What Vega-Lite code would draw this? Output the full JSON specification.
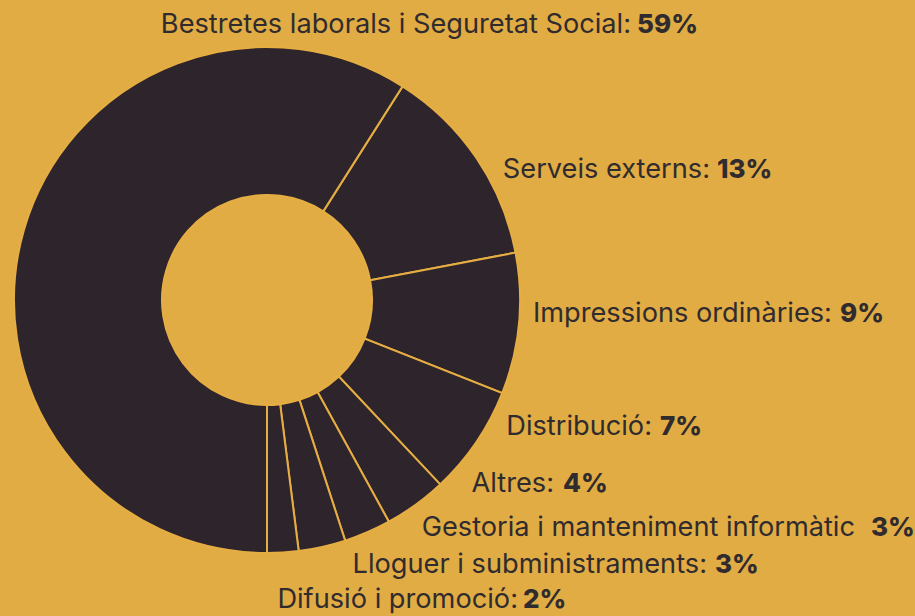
{
  "$schema": "https://vega.github.io/schema/vega-lite/v6.json",
  "width": 534,
  "height": 600,
  "autosize": {"type": "none"},
  "padding": {"left": 0, "top": 0, "right": 381, "bottom": 16},
  "background": "#E1AC44",
  "config": {"view": {"stroke": null}},
  "data": {
    "values": [
      {"ordre": 1, "categoria": "Serveis externs:", "percentatge": 13, "etiqueta": "13%"},
      {"ordre": 2, "categoria": "Impressions ordinàries:", "percentatge": 9, "etiqueta": "9%"},
      {"ordre": 3, "categoria": "Distribució:", "percentatge": 7, "etiqueta": "7%"},
      {"ordre": 4, "categoria": "Altres:", "percentatge": 4, "etiqueta": "4%"},
      {"ordre": 5, "categoria": "Gestoria i manteniment informàtic", "percentatge": 3, "etiqueta": "3%"},
      {"ordre": 6, "categoria": "Lloguer i subministraments:", "percentatge": 3, "etiqueta": "3%"},
      {"ordre": 7, "categoria": "Difusió i promoció:", "percentatge": 2, "etiqueta": "2%"},
      {"ordre": 8, "categoria": "Bestretes laborals i Seguretat Social:", "percentatge": 59, "etiqueta": "59%"}
    ]
  },
  "encoding": {
    "theta": {
      "field": "percentatge",
      "type": "quantitative",
      "stack": true,
      "scale": {"type": "linear", "domain": [0, 100], "range": [0.5655, 6.8487]}
    },
    "order": {"field": "ordre", "type": "quantitative"}
  },
  "layer": [
    {
      "mark": {"type": "arc", "outerRadius": 253, "innerRadius": 105, "fill": "#2D242C", "stroke": "#E6AE42", "strokeWidth": 2}
    },
    {
      "mark": {
        "type": "text", "radius": 280, "align": "right", "baseline": "alphabetic",
        "font": "Inter", "fontSize": 27.2, "fontWeight": 400, "color": "#302B2E",
        "dx": {"expr": "[211.4,286.2,153.4,122.4,476.8,378.9,233.4,632.9][datum.ordre-1]"},
        "dy": {"expr": "[35.4,-4.3,-22.4,-34.5,-21,-0.3,28.6,-188.9][datum.ordre-1]"}
      },
      "encoding": {"text": {"field": "categoria"}}
    },
    {
      "mark": {
        "type": "text", "radius": 280, "align": "left", "baseline": "alphabetic",
        "font": "Inter", "fontSize": 26, "fontWeight": 800, "color": "#302B2E",
        "dx": {"expr": "[218.4,294.2,161.4,131.4,492.8,386.9,238.4,638.9][datum.ordre-1]"},
        "dy": {"expr": "[35.4,-4.3,-22.4,-34.5,-21,-0.3,28.6,-188.9][datum.ordre-1]"}
      },
      "encoding": {"text": {"field": "etiqueta"}}
    }
  ]
}
